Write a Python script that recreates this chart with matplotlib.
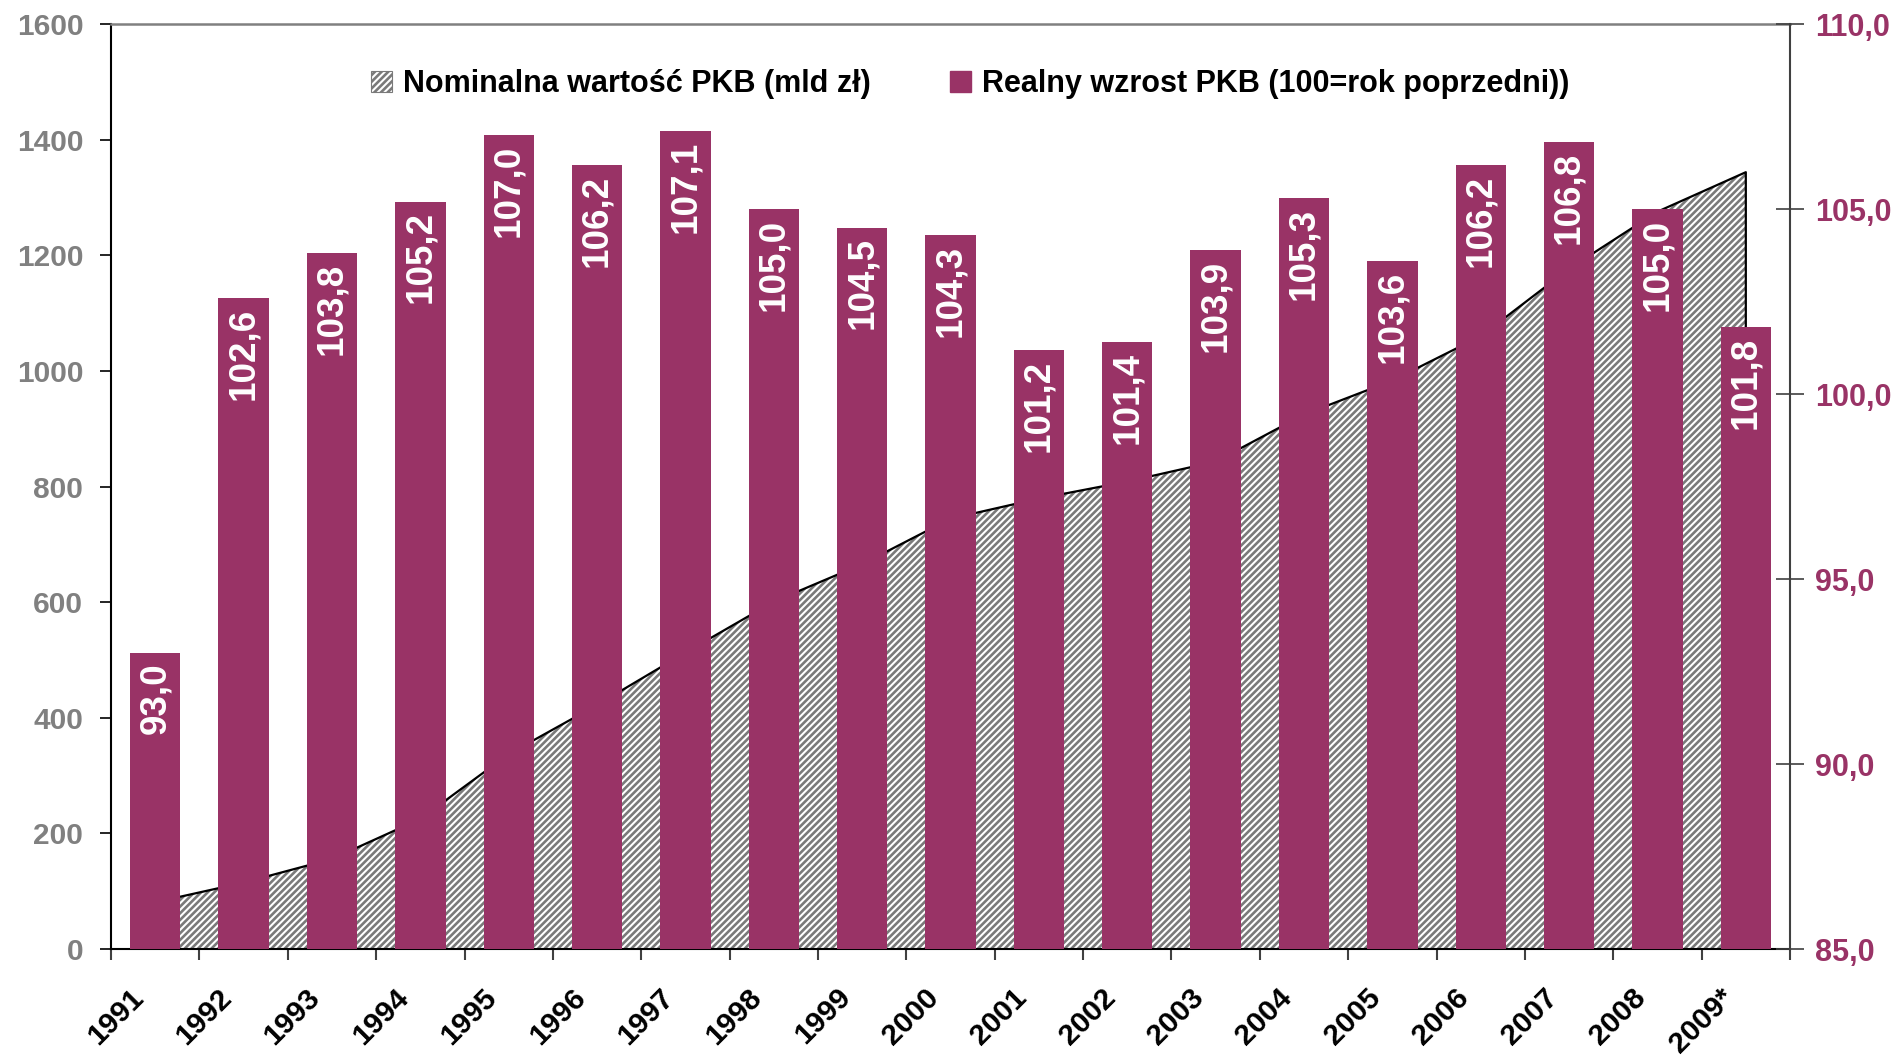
import numpy as np
import matplotlib
matplotlib.use('Agg')
import matplotlib.pyplot as plt
import matplotlib.transforms as mtransforms
from matplotlib.patches import Patch

plt.rcParams['font.family'] = ['Liberation Sans', 'DejaVu Sans']
plt.rcParams['font.weight'] = 'bold'
plt.rcParams['hatch.linewidth'] = 1.9
plt.rcParams['hatch.color'] = '#7a7a7a'

# data
years = ['1991', '1992', '1993', '1994', '1995', '1996', '1997', '1998', '1999', '2000',
         '2001', '2002', '2003', '2004', '2005', '2006', '2007', '2008', '2009*']
nominal = [80.9, 114.9, 155.8, 225.1, 337.2, 422.2, 512.8, 600.9, 665.7, 744.4,
           779.2, 808.6, 843.2, 924.5, 983.3, 1060.0, 1176.7, 1275.4, 1343.7]
real_growth = [93.0, 102.6, 103.8, 105.2, 107.0, 106.2, 107.1, 105.0, 104.5, 104.3,
               101.2, 101.4, 103.9, 105.3, 103.6, 106.2, 106.8, 105.0, 101.8]
left_ticks = [0, 200, 400, 600, 800, 1000, 1200, 1400, 1600]
right_ticks = [85, 90, 95, 100, 105, 110]

purple = '#993366'
grey = '#808080'

fig = plt.figure(figsize=(18.99, 10.58), dpi=100)
ax = fig.add_axes([0.0585, 0.103, 0.8841, 0.8743])
x = np.arange(len(years))

# hatched area for nominal GDP
ax.fill_between(x, nominal, 0, facecolor='white', edgecolor='#7a7a7a', hatch='/////',
                linewidth=0, zorder=2)
ax.plot(list(x) + [x[-1]], nominal + [0], color='black', lw=1.6, zorder=3)
ax.set_xlim(-0.5, len(years) - 0.5)
ax.set_ylim(0, 1600)
ax.set_yticks(left_ticks)
ax.set_yticklabels([str(t) for t in left_ticks], color=grey, fontsize=21.5, fontweight='bold')
ax.tick_params(axis='y', direction='out', length=8, width=1.2, pad=12, colors='black',
               labelcolor=grey)

ax.set_xticks(np.arange(len(years) + 1) - 0.5)
ax.set_xticklabels([])
ax.tick_params(axis='x', direction='out', length=8, width=1.5, colors='#404040')

# rotated year labels
off = mtransforms.ScaledTranslation(28 / 100, -44 / 100, fig.dpi_scale_trans)
for i, yr in enumerate(years):
    ax.text(i - 0.5, 0, yr, transform=ax.get_xaxis_transform() + off,
            rotation=45, rotation_mode='anchor', ha='right', va='center',
            fontsize=21.5, fontweight='bold', color='black')

ax.spines['left'].set_color('black')
ax.spines['left'].set_linewidth(1.5)
ax.spines['bottom'].set_color('black')
ax.spines['bottom'].set_linewidth(1.5)
ax.spines['top'].set_color(grey)
ax.spines['top'].set_linewidth(1.8)
ax.spines['right'].set_visible(False)

# bars for real growth on the right axis
ax2 = ax.twinx()
bars = ax2.bar(x, real_growth, width=0.57, color=purple, zorder=3)
ax2.set_ylim(85, 110)
ax2.set_yticks(right_ticks)
ax2.set_yticklabels([('%.1f' % t).replace('.', ',') for t in right_ticks],
                    fontsize=22, fontweight='bold')
ax2.tick_params(axis='y', direction='inout', length=20, width=1.2, pad=8,
                colors='#404040', labelcolor=purple)
for s in ['top', 'left', 'bottom']:
    ax2.spines[s].set_visible(False)
ax2.spines['right'].set_color('#404040')
ax2.spines['right'].set_linewidth(1.5)

for b, v in zip(bars, real_growth):
    ax2.annotate(('%.1f' % v).replace('.', ','), (b.get_x() + b.get_width() / 2, v),
                 xytext=(0, -7), textcoords='offset points', rotation=90,
                 ha='center', va='top', color='white', fontsize=26.5, fontweight='bold',
                 zorder=5)

handles = [Patch(facecolor='white', edgecolor='#7a7a7a', hatch='/////', linewidth=0.8),
           Patch(facecolor=purple, edgecolor=purple)]
fig.legend(handles, ['Nominalna wartość PKB (mld zł)', 'Realny wzrost PKB (100=rok poprzedni))'],
           loc='center', bbox_to_anchor=(970 / 1899, 1 - 84 / 1058), ncol=2, frameon=False,
           prop={'size': 22, 'weight': 'bold'}, handlelength=0.7, handleheight=0.7,
           handletextpad=0.35, columnspacing=2.6)

fig.savefig('out.png', dpi=100)
